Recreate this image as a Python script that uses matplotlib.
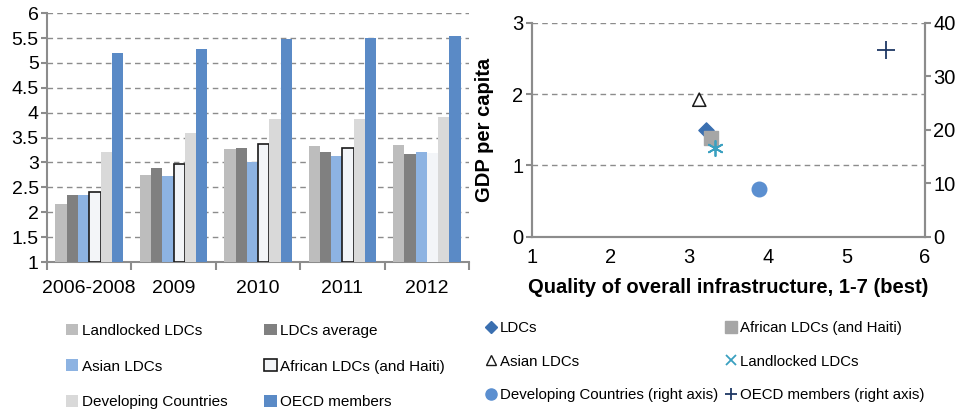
import matplotlib
matplotlib.use("Agg")
import matplotlib.pyplot as plt
import numpy as np
from matplotlib.lines import Line2D
from matplotlib.patches import Patch

plt.rcParams['font.family'] = ['Liberation Sans', 'DejaVu Sans']

# ---- Left chart data ----
periods = ["2006-2008", "2009", "2010", "2011", "2012"]
bar_series = ["Landlocked LDCs", "LDCs average", "Asian LDCs",
              "African LDCs (and Haiti)", "Developing Countries", "OECD members"]
landlocked = [2.16, 2.74, 3.27, 3.33, 3.35]
ldcs_avg = [2.35, 2.88, 3.30, 3.21, 3.18]
asian = [2.35, 2.72, 3.00, 3.13, 3.21]
african = [2.40, 2.96, 3.37, 3.29, 3.20]
developing = [3.21, 3.59, 3.88, 3.88, 3.91]
oecd = [5.21, 5.28, 5.48, 5.51, 5.54]

# ---- Right chart data ----
scatter_labels = ["LDCs", "African LDCs (and Haiti)", "Asian LDCs", "Landlocked LDCs",
                  "Developing Countries (right axis)", "OECD members (right axis)"]
infra_x = [3.21, 3.28, 3.13, 3.33, 3.89, 5.50]
gdp_left = [1.50, 1.39, 1.92, 1.24]
gdp_right = [8.9, 34.8]

grid_col = "#8c8c8c"
spine_col = "#8c8c8c"

fig = plt.figure(figsize=(9.68, 4.12), dpi=100)

# ---------------- Left bar chart ----------------
ax1 = fig.add_axes([0.0486, 0.364, 0.436, 0.604])
vals = [landlocked, ldcs_avg, asian, african, developing, oecd]
colors = ["#bdbdbd", "#808080", "#8db3e2", "#f3f5f8", "#d9d9d9", "#5a8ac6"]
edges = ["none", "none", "none", "#1a1a1a", "none", "none"]
n = len(vals)
bw = 0.8 / n
x = np.arange(len(periods))
handles = []
for i, (v, c, e) in enumerate(zip(vals, colors, edges)):
    off = (i - (n - 1) / 2) * bw
    heights = np.array(v) - 1
    if e != "none":
        # 2012 African bar has no border in the reference
        ecs = [e, e, e, e, "none"]
        for j in range(len(v)):
            ax1.bar(x[j] + off, heights[j], bw, bottom=1, color=c,
                    edgecolor=ecs[j], linewidth=1.2, zorder=3)
        handles.append(Patch(facecolor=c, edgecolor=e, linewidth=1.2, label=bar_series[i]))
    else:
        ax1.bar(x + off, heights, bw, bottom=1, color=c, zorder=3)
        handles.append(Patch(facecolor=c, edgecolor="none", label=bar_series[i]))

ax1.set_xlim(-0.5, len(periods) - 0.5)
ax1.set_ylim(1, 6)
ax1.set_yticks(np.arange(1, 6.01, 0.5))
ax1.set_yticklabels(["1", "1.5", "2", "2.5", "3", "3.5", "4", "4.5", "5", "5.5", "6"])
ax1.yaxis.grid(True, linestyle=(0, (4, 3)), color=grid_col, linewidth=1.0, zorder=0)
ax1.set_axisbelow(True)
ax1.set_xticks(x)
ax1.set_xticklabels(periods)
ax1.set_xticks(np.arange(-0.5, len(periods), 1), minor=True)
ax1.tick_params(axis='x', which='major', length=0, labelsize=14, pad=13)
ax1.tick_params(axis='x', which='minor', length=6, color=spine_col, width=1.5)
ax1.tick_params(axis='y', length=4, color=spine_col, width=1.5, labelsize=14, pad=2)
for s in ["top", "right"]:
    ax1.spines[s].set_visible(False)
for s in ["left", "bottom"]:
    ax1.spines[s].set_color(spine_col)
    ax1.spines[s].set_linewidth(1.5)

order = [0, 2, 4, 1, 3, 5]
fig.legend([handles[k] for k in order], [bar_series[k] for k in order],
           ncol=2, loc="upper left", bbox_to_anchor=(0.054, 0.248),
           frameon=False, fontsize=11, handlelength=0.8, handleheight=0.8,
           handletextpad=0.25, columnspacing=2.4, labelspacing=1.42)

# ---------------- Right scatter chart ----------------
ax2 = fig.add_axes([0.5493, 0.4255, 0.4063, 0.5195])
ax3 = ax2.twinx()
ax2.set_xlim(1, 6)
ax2.set_ylim(0, 3)
ax3.set_ylim(0, 40)
ax2.set_xticks([1, 2, 3, 4, 5, 6])
ax2.set_yticks([0, 1, 2, 3])
ax3.set_yticks([0, 10, 20, 30, 40])
ax2.yaxis.grid(True, linestyle=(0, (4, 3)), color=grid_col, linewidth=1.0, zorder=0)
ax2.set_axisbelow(True)

ax2.scatter(infra_x[0], gdp_left[0], marker="D", s=60, color="#3a6fb0", zorder=4)
ax2.scatter(infra_x[1], gdp_left[1], marker="s", s=110, color="#a6a6a6", zorder=5)
ax2.scatter(infra_x[2], gdp_left[2], marker="^", s=90, facecolor="none",
            edgecolor="#1a1a1a", linewidth=1.1, zorder=4)
ax3.scatter(infra_x[3], gdp_left[3] * 40 / 3, marker=(6, 2, 0), s=120, color="#3aa0c0",
            linewidth=1.3, zorder=6)
ax3.scatter(infra_x[4], gdp_right[0], marker="o", s=110, color="#5b8fd0", zorder=4)
ax3.scatter(infra_x[5], gdp_right[1], marker="+", s=150, color="#1f3864",
            linewidth=1.3, zorder=4)

ax2.tick_params(axis='x', length=0, labelsize=14.5, pad=8)
ax2.tick_params(axis='y', length=4, color=spine_col, width=1.5, labelsize=14.5, pad=2)
ax3.tick_params(axis='y', length=4, color=spine_col, width=1.5, labelsize=14.5, pad=2)
for a in (ax2, ax3):
    a.spines["top"].set_visible(False)
    for s in ["left", "right", "bottom"]:
        a.spines[s].set_color(spine_col)
        a.spines[s].set_linewidth(1.5)
ax2.set_ylabel("GDP per capita", fontsize=14.5, fontweight="bold", labelpad=13)
ax2.set_xlabel("Quality of overall infrastructure, 1-7 (best)", fontsize=14.5,
               fontweight="bold", labelpad=8)

leg_handles = [
    Line2D([], [], marker="D", linestyle="none", color="#3a6fb0", markersize=6),
    Line2D([], [], marker="^", linestyle="none", markerfacecolor="none",
           markeredgecolor="#1a1a1a", markersize=7),
    Line2D([], [], marker="o", linestyle="none", color="#5b8fd0", markersize=8),
    Line2D([], [], marker="s", linestyle="none", color="#a6a6a6", markersize=8),
    Line2D([], [], marker="x", linestyle="none", color="#3aa0c0", markersize=7,
           markeredgewidth=1.3),
    Line2D([], [], marker="+", linestyle="none", color="#1f3864", markersize=8,
           markeredgewidth=1.3),
]
leg_labels = [scatter_labels[0], scatter_labels[2], scatter_labels[4],
              scatter_labels[1], scatter_labels[3], scatter_labels[5]]
fig.legend(leg_handles, leg_labels, ncol=2, loc="upper left",
           bbox_to_anchor=(0.489, 0.254), frameon=False, fontsize=10.8,
           handlelength=0.6, handletextpad=0.25, columnspacing=0.6, labelspacing=1.32)

fig.savefig("out.png", dpi=100)
